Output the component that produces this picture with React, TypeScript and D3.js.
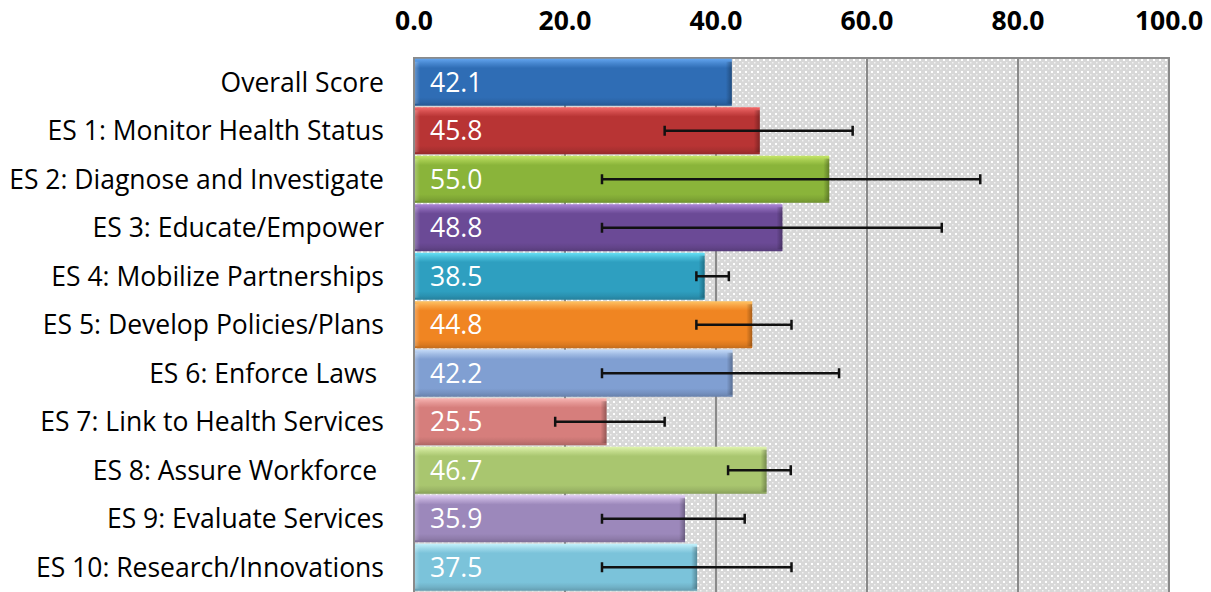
import React from "react";
import * as d3 from "d3";

const categories = [
  "Overall Score",
  "ES 1: Monitor Health Status",
  "ES 2: Diagnose and Investigate",
  "ES 3: Educate/Empower",
  "ES 4: Mobilize Partnerships",
  "ES 5: Develop Policies/Plans",
  "ES 6: Enforce Laws ",
  "ES 7: Link to Health Services",
  "ES 8: Assure Workforce ",
  "ES 9: Evaluate Services",
  "ES 10: Research/Innovations",
];
const scores = [42.1, 45.8, 55.0, 48.8, 38.5, 44.8, 42.2, 25.5, 46.7, 35.9, 37.5];
const errLow: (number | null)[] = [null, 33.2, 24.9, 24.9, 37.4, 37.4, 24.9, 18.7, 41.6, 24.9, 24.9];
const errHigh: (number | null)[] = [null, 58.1, 75.0, 69.9, 41.7, 50.0, 56.3, 33.2, 49.9, 43.8, 50.0];
const tickValues = [0, 20, 40, 60, 80, 100];
const baseColors = ["#2f6db5", "#b83434", "#8ab43a", "#6b4a96", "#2e9fc0", "#f08522", "#809fd2", "#d67e7c", "#a9c66f", "#9c88bb", "#7bc3da"];
const topColors = ["#62a4ee", "#f26a6a", "#c6e668", "#ab85d6", "#66e0f6", "#ffc466", "#c4daf8", "#f8b6b4", "#e0f4ae", "#e0ccf4", "#c4f2fc"];

const W = 1211;
const H = 592;
const M = { left: 414, right: 1169, top: 58, bottom: 591.5 };
const FONT = "'Open Sans', Lato, sans-serif";
const FS = 26.5;

export default function App() {
  const x = d3.scaleLinear().domain([0, 100]).range([M.left, M.right]);
  const y = d3.scaleBand<string>().domain(categories).range([M.top, M.bottom]).paddingInner(0.03).paddingOuter(0.015);
  const bh = y.bandwidth();

  return (
    <svg width={W} height={H} style={{ position: "absolute", left: 0, top: 0, background: "#fff" }}>
      <defs>
        <pattern id="dots" width={6} height={6} patternUnits="userSpaceOnUse" x={M.left} y={M.top}>
          <rect width={6} height={6} fill="#d8d8d8" />
          <rect x={1} y={1} width={2} height={2} fill="#ffffff" />
          <rect x={4} y={4} width={1.5} height={1.5} fill="#f2f2f2" />
        </pattern>
        {categories.map((_, i) => {
          const base = d3.color(baseColors[i])!;
          const dark = base.darker(0.6).formatHex();
          const mid = d3.interpolateRgb(topColors[i], baseColors[i])(0.55);
          return (
            <linearGradient key={i} id={`g${i}`} x1="0" y1="0" x2="0" y2="1">
              <stop offset="0" stopColor={topColors[i]} />
              <stop offset="0.1" stopColor={mid} />
              <stop offset="0.2" stopColor={baseColors[i]} />
              <stop offset="0.82" stopColor={baseColors[i]} />
              <stop offset="0.92" stopColor={base.darker(0.25).formatHex()} />
              <stop offset="1" stopColor={dark} />
            </linearGradient>
          );
        })}
        <linearGradient id="rshade" x1="0" y1="0" x2="1" y2="0">
          <stop offset="0" stopColor="#000" stopOpacity={0} />
          <stop offset="1" stopColor="#000" stopOpacity={0.3} />
        </linearGradient>
        <linearGradient id="lshade" x1="0" y1="0" x2="1" y2="0">
          <stop offset="0" stopColor="#fff" stopOpacity={0.25} />
          <stop offset="1" stopColor="#fff" stopOpacity={0} />
        </linearGradient>
      </defs>

      {/* plot background */}
      <rect x={M.left} y={M.top} width={M.right - M.left} height={M.bottom - M.top + 4} fill="url(#dots)" />

      {/* gridlines */}
      {tickValues.slice(1, -1).map((t) => (
        <line key={t} x1={x(t)} x2={x(t)} y1={M.top} y2={H} stroke="#8a8a8a" strokeWidth={2} />
      ))}
      {/* border */}
      <path d={`M${M.left},${H}V${M.top}H${M.right}V${H}`} fill="none" stroke="#8a8a8a" strokeWidth={2} />

      {/* top axis labels */}
      {tickValues.map((t) => (
        <text key={t} x={x(t)} y={30} textAnchor="middle" fontFamily={FONT} fontWeight={700} fontSize={FS} fill="#000">
          {t.toFixed(1)}
        </text>
      ))}

      {/* bars */}
      {categories.map((c, i) => {
        const y0 = y(c)!;
        const x0 = x(0) + 1;
        const w = x(scores[i]) - x0;
        return (
          <g key={c}>
            <rect x={x0} y={y0} width={w} height={bh} fill={`url(#g${i})`} />
            <rect x={x0 + w - 6} y={y0 + 3} width={6} height={bh - 5} fill="url(#rshade)" />
            <rect x={x0} y={y0 + 3} width={5} height={bh - 5} fill="url(#lshade)" />
          </g>
        );
      })}

      {/* error bars */}
      {categories.map((c, i) => {
        const lo = errLow[i];
        const hi = errHigh[i];
        if (lo == null || hi == null) return null;
        const cy = y(c)! + bh / 2;
        return (
          <g key={`e${c}`} stroke="#111" fill="none">
            <line x1={x(lo)} x2={x(hi)} y1={cy} y2={cy} strokeWidth={2.5} />
            <line x1={x(lo)} x2={x(lo)} y1={cy - 5} y2={cy + 5} strokeWidth={2.5} />
            <line x1={x(hi)} x2={x(hi)} y1={cy - 5} y2={cy + 5} strokeWidth={2.5} />
          </g>
        );
      })}

      {/* value labels */}
      {categories.map((c, i) => (
        <text key={`v${c}`} x={430} y={y(c)! + bh / 2 + 9.5} fontFamily={FONT} fontSize={FS} fill="#fff">
          {scores[i].toFixed(1)}
        </text>
      ))}

      {/* category labels */}
      {categories.map((c) => (
        <text key={`c${c}`} x={384} y={y(c)! + bh / 2 + 9.5} textAnchor="end" fontFamily={FONT} fontSize={FS} fill="#000" style={{ whiteSpace: "pre" }}>
          {c}
        </text>
      ))}
    </svg>
  );
}
